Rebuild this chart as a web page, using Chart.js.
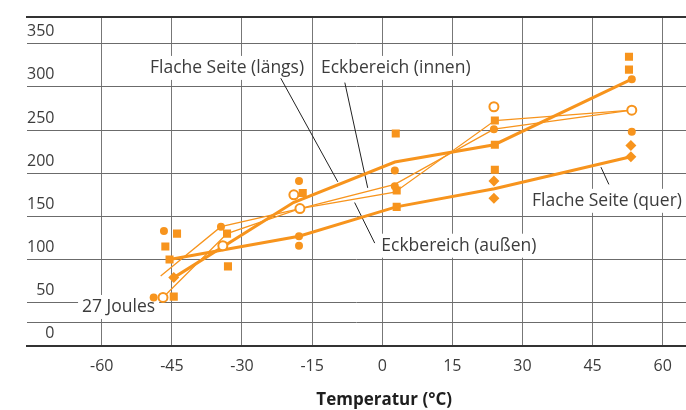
<!DOCTYPE html>
<html>
<head>
<meta charset="utf-8">
<script src="https://cdn.jsdelivr.net/npm/chart.js@4"></script>
<style>
  body { margin: 0; background: #fff; }
</style>
</head>
<body>
<canvas id="impact-chart" width="686" height="410"></canvas>
<script>
// axis ticks
const xTicks = [-60, -45, -30, -15, 0, 15, 30, 45, 60];
const yTicks = [0, 27, 50, 100, 150, 200, 250, 300, 350];

// mean lines
const laengsX = [-44.6, -19, 2.7, 24, 53.4];
const laengsY = [79, 166, 213, 233, 309];
const querX = [-45.5, -17.8, 3, 24, 53.2];
const querY = [100, 127, 161, 182, 219];
const innenX = [-47.4, -34.5, -17.6, 2.7, 23.9, 53.4];
const innenY = [81, 138, 159, 187, 251, 273];
const aussenX = [-46.9, -33.2, -17.6, 2.7, 24.1, 53.4];
const aussenY = [56, 130, 159, 178, 261, 273];

// single measurements
const circleX = [-46.7, -48.9, -34.5, -17.8, -17.8, -17.8, 2.7, 2.7, 23.9, 53.4, 53.4];
const circleY = [133, 56, 138, 191, 127, 116, 203, 185, 251, 309, 248];
const openX = [-46.9, -34.1, -18.9, -17.6, 23.9, 53.4];
const openY = [56, 116, 175, 159, 277, 273];
const squareX = [-43.9, -46.4, -45.5, -44.6, -33.2, -33.0, -17.0, 2.9, 3.1, 3.1, 24.1, 24.1, 24.1, 52.8, 52.8];
const squareY = [130, 115, 100, 57, 130, 92, 177, 246, 180, 161, 261, 233, 204, 335, 320];
const diamondX = [-44.6, 23.9, 23.9, 53.2, 53.2];
const diamondY = [79, 191, 171, 232, 219];

const orange = "#f7941d";
const textColor = "#3c3c3c";

function pts(xs, ys) {
    return xs.map((x, i) => ({ x: x, y: ys[i] }));
}

// labels with their pointer lines (data coordinates)
let notes = [
    { text: "Flache Seite (längs)", x: -33.2, y: 322, from: [-21.7, 310], to: [-9.5, 190] },
    { text: "Eckbereich (innen)", x: 2.9, y: 322, from: [-8.0, 305], to: [-3.1, 183] },
    { text: "Eckbereich (außen)", x: 16.4, y: 116, from: [-1.6, 119], to: [-5.9, 166] },
    { text: "Flache Seite (quer)", x: 48.1, y: 168, from: [48.5, 187], to: [46.8, 207] },
    { text: "27 Joules", x: -56.4, y: 45 }
];

const notesPlugin = {
    id: "notes",
    beforeDatasetsDraw(chart) {
        let ctx = chart.ctx;
        let xs = chart.scales.x;
        let ys = chart.scales.y;
        ctx.save();
        ctx.font = "17.5px 'Open Sans'";
        ctx.textAlign = "center";
        ctx.textBaseline = "middle";
        notes.forEach(n => {
            let px = xs.getPixelForValue(n.x);
            let py = ys.getPixelForValue(n.y);
            let w = ctx.measureText(n.text).width;
            ctx.fillStyle = "#fff";
            ctx.fillRect(px - w / 2 - 4, py - 12, w + 8, 24);
            ctx.fillStyle = textColor;
            ctx.fillText(n.text, px, py);
            if (n.from) {
                ctx.beginPath();
                ctx.moveTo(xs.getPixelForValue(n.from[0]), ys.getPixelForValue(n.from[1]));
                ctx.lineTo(xs.getPixelForValue(n.to[0]), ys.getPixelForValue(n.to[1]));
                ctx.strokeStyle = "#222";
                ctx.lineWidth = 1;
                ctx.stroke();
            }
        });
        // x axis title
        ctx.font = "bold 17px 'Open Sans'";
        ctx.fillStyle = "#1e1e1e";
        ctx.fillText("Temperatur (°C)", xs.getPixelForValue(0) + 2, chart.height - 10);
        ctx.restore();
    }
};

function lineSet(label, xs, ys, width) {
    return {
        label: label,
        data: pts(xs, ys),
        showLine: true,
        borderColor: orange,
        borderWidth: width,
        pointRadius: 0,
        tension: 0,
        fill: false
    };
}

const tickFont = { family: "Open Sans", size: 16 };

new Chart("impact-chart", {
    type: "scatter",
    data: {
        datasets: [
            { label: "rund", data: pts(circleX, circleY), pointStyle: "circle", pointRadius: 4, backgroundColor: orange, borderColor: orange, borderWidth: 0 },
            { label: "offen", data: pts(openX, openY), pointStyle: "circle", pointRadius: 4.5, backgroundColor: "#fff", borderColor: orange, borderWidth: 2 },
            { label: "eckig", data: pts(squareX, squareY), pointStyle: "rect", pointRadius: 5.7, backgroundColor: orange, borderColor: orange, borderWidth: 0 },
            { label: "raute", data: pts(diamondX, diamondY), pointStyle: "rectRot", pointRadius: 5.5, backgroundColor: orange, borderColor: orange, borderWidth: 0 },
            lineSet("Flache Seite (längs)", laengsX, laengsY, 3),
            lineSet("Flache Seite (quer)", querX, querY, 3),
            lineSet("Eckbereich (innen)", innenX, innenY, 1.3),
            lineSet("Eckbereich (außen)", aussenX, aussenY, 1.3)
        ]
    },
    options: {
        responsive: false,
        animation: false,
        layout: { autoPadding: false, padding: { left: 27, right: 0, top: 17, bottom: 23 } },
        plugins: {
            legend: { display: false },
            tooltip: { enabled: false }
        },
        scales: {
            x: {
                type: "linear",
                min: -76,
                max: 65,
                afterBuildTicks: s => { s.ticks = xTicks.map(v => ({ value: v })); },
                grid: { color: "#777", lineWidth: 1, drawTicks: false },
                border: { display: true, color: "#333", width: 2 },
                ticks: { padding: 11, color: textColor, font: tickFont }
            },
            x2: {
                type: "linear",
                position: "top",
                grid: { display: false, drawTicks: false },
                border: { display: true, color: "#333", width: 2 },
                ticks: { display: false }
            },
            y: {
                min: 0,
                max: 381,
                afterBuildTicks: s => { s.ticks = yTicks.map(v => ({ value: v })); },
                grid: {
                    color: c => c.tick && c.tick.value === 0 ? "#333" : "#6b6b6b",
                    lineWidth: 1,
                    drawTicks: false
                },
                border: { display: false },
                ticks: {
                    mirror: true,
                    crossAlign: "far",
                    padding: 0,
                    labelOffset: -12,
                    color: textColor,
                    font: tickFont,
                    callback: v => v === 27 ? "" : v
                }
            }
        }
    },
    plugins: [notesPlugin]
});
</script>
</body>
</html>
